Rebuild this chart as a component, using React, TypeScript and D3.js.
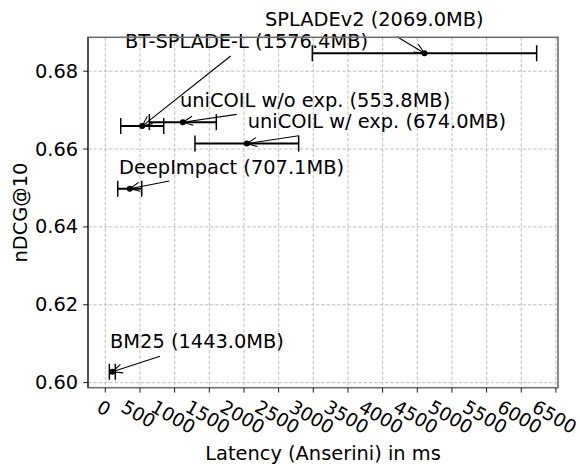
import React from 'react'
import * as d3 from 'd3'

// models, latency (ms) mean / std, nDCG@10
const models = ['SPLADEv2', 'BT-SPLADE-L', 'uniCOIL w/o exp.', 'uniCOIL w/ exp.', 'DeepImpact', 'BM25']
const labels = [
    'SPLADEv2 (2069.0MB)',
    'BT-SPLADE-L (1576.4MB)',
    'uniCOIL w/o exp. (553.8MB)',
    'uniCOIL w/ exp. (674.0MB)',
    'DeepImpact (707.1MB)',
    'BM25 (1443.0MB)',
]
const latency = [4604, 532, 1118, 2041, 352, 101]
const latencyStd = [1618, 310, 483, 748, 173, 43]
const ndcg = [0.6846, 0.6659, 0.6669, 0.6614, 0.6498, 0.6028]

// annotation text anchor and arrow tail (data coords)
const textX = [2303, 284, 1077, 2054, 198, 68]
const textY = [0.6916, 0.6859, 0.6709, 0.6653, 0.6536, 0.6088]
const tailX = [4203, 1808, 1895, 2789, 923, 789]
const tailY = [0.6889, 0.6839, 0.6689, 0.6634, 0.6518, 0.6068]

const xTicks = [0, 500, 1000, 1500, 2000, 2500, 3000, 3500, 4000, 4500, 5000, 5500, 6000, 6500]
const yTicks = [0.6, 0.62, 0.64, 0.66, 0.68]

const W = 580
const H = 464
const FONT = 'DejaVu Sans'
const FS = 19.4
const XFS = 18.6

const App = () => {
    const left = 88
    const right = 558
    const top = 37.3
    const bottom = 387.7

    const x = d3.scaleLinear().domain([-250, 6530]).range([left, right])
    const y = d3.scaleLinear().domain([0.5987, 0.6887]).range([bottom, top])

    const tickLen = 4.9
    const pad = 4.9
    const cap = 8

    const arrowHead = (x1: number, y1: number, x2: number, y2: number) => {
        const a = Math.atan2(y2 - y1, x2 - x1)
        const hl = 10
        const hw = 4.5
        const bx = x2 - hl * Math.cos(a)
        const by = y2 - hl * Math.sin(a)
        const px = -Math.sin(a) * hw
        const py = Math.cos(a) * hw
        return `M${bx + px},${by + py}L${x2},${y2}L${bx - px},${by - py}`
    }

    return (
        <svg width={W} height={H} style={{ position: 'absolute', left: 0, top: 0, background: '#fff' }}
            fontFamily={FONT}>
            <rect x={0} y={0} width={W} height={H} fill='#fff' />
            {/* grid */}
            {xTicks.map((t) => (
                <line key={'gx' + t} x1={x(t)} x2={x(t)} y1={top} y2={bottom}
                    stroke='#b8b8b8' strokeWidth={0.9} strokeDasharray='3.5,1.8' />
            ))}
            {yTicks.map((t) => (
                <line key={'gy' + t} x1={left} x2={right} y1={y(t)} y2={y(t)}
                    stroke='#b8b8b8' strokeWidth={0.9} strokeDasharray='3.5,1.8' />
            ))}

            {/* error bars */}
            {models.map((m, i) => {
                const lo = x(latency[i] - latencyStd[i])
                const hi = x(latency[i] + latencyStd[i])
                const cy = y(ndcg[i])
                return (
                    <g key={'e' + m} stroke='#000'>
                        <line x1={lo} x2={hi} y1={cy} y2={cy} strokeWidth={2} />
                        <line x1={lo} x2={lo} y1={cy - cap} y2={cy + cap} strokeWidth={1.5} />
                        <line x1={hi} x2={hi} y1={cy - cap} y2={cy + cap} strokeWidth={1.5} />
                        <circle cx={x(latency[i])} cy={cy} r={3} fill='#000' stroke='none' />
                    </g>
                )
            })}

            {/* annotations */}
            {models.map((m, i) => {
                const x1 = x(tailX[i])
                const y1 = y(tailY[i])
                const x2 = x(latency[i])
                const y2 = y(ndcg[i])
                return (
                    <g key={'a' + m}>
                        <line x1={x1} y1={y1} x2={x2} y2={y2} stroke='#000' strokeWidth={1.1} />
                        <path d={arrowHead(x1, y1, x2, y2)} fill='none' stroke='#000' strokeWidth={1.1} />
                        <text x={x(textX[i])} y={y(textY[i])} fontSize={FS} fill='#000'>{labels[i]}</text>
                    </g>
                )
            })}

            {/* spines */}
            <rect x={left} y={top} width={right - left} height={bottom - top} fill='none'
                stroke='#707070' strokeWidth={1.6} />
            <line x1={left} x2={left} y1={top} y2={bottom} stroke='#222' strokeWidth={1.1} />

            {/* y axis */}
            {yTicks.map((t) => (
                <g key={'yt' + t}>
                    <line x1={left - tickLen} x2={left} y1={y(t)} y2={y(t)} stroke='#000' strokeWidth={0.9} />
                    <text x={left - tickLen - pad} y={y(t)} textAnchor='end' dominantBaseline='central'
                        fontSize={FS}>{d3.format('.2f')(t)}</text>
                </g>
            ))}
            <text transform={`translate(20,${(top + bottom) / 2}) rotate(-90)`} textAnchor='middle'
                dominantBaseline='central' fontSize={FS}>nDCG@10</text>

            {/* x axis */}
            {xTicks.map((t) => {
                const s = String(t)
                const w = s.length * 0.636 * XFS
                const h = 0.95 * XFS
                const bh = w * 0.5 + h * 0.866
                const cy = bottom + tickLen + pad + bh / 2
                return (
                    <g key={'xt' + t}>
                        <line x1={x(t)} x2={x(t)} y1={bottom} y2={bottom + tickLen} stroke='#000' strokeWidth={0.9} />
                        <text transform={`translate(${x(t) - 1.5},${cy}) rotate(30)`} textAnchor='middle'
                            dominantBaseline='central' fontSize={XFS}>{s}</text>
                    </g>
                )
            })}
            <text x={(left + right) / 2} y={460} textAnchor='middle' fontSize={FS}>Latency (Anserini) in ms</text>
        </svg>
    )
}

export default App
